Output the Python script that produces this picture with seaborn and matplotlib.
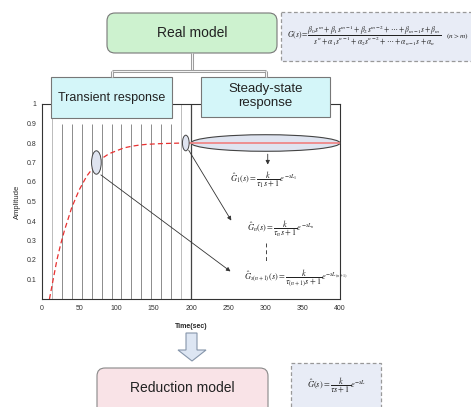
import numpy as np
import pandas as pd
import matplotlib
matplotlib.use("Agg")
import matplotlib.pyplot as plt
import seaborn as sns
from matplotlib.patches import FancyBboxPatch, Ellipse, Polygon, Rectangle

# ---- data ----
t_transient = [10, 15, 20, 25, 30, 40, 50, 60, 70, 80, 90, 100, 110, 120, 130,
               140, 150, 160, 170, 180, 190]
amp_transient = [0.0, 0.10, 0.20, 0.28, 0.35, 0.47, 0.56, 0.63, 0.68, 0.72, 0.745,
                 0.76, 0.775, 0.783, 0.789, 0.793, 0.795, 0.797, 0.798, 0.799, 0.80]
t_steady = [195, 400]
amp_steady = [0.80, 0.80]
grid_times = [13.3, 26.7, 40.0, 53.3, 66.7, 80.0, 93.3, 106.7, 120.0, 133.3,
              146.7, 160.0, 173.3, 186.7]
split_time = 200
x_ticks = [0, 50, 100, 150, 200, 250, 300, 350, 400]
y_ticks = [0.1, 0.2, 0.3, 0.4, 0.5, 0.6, 0.7, 0.8, 0.9, 1.0]
y_ticklabels = ["0.1", "0.2", "0.3", "0.4", "0.5", "0.6", "0.7", "0.8", "0.9", "1"]

sns.set_style("white")
plt.rcParams['font.family'] = ['Liberation Sans', 'DejaVu Sans']
plt.rcParams['mathtext.fontset'] = 'stix'

W, H = 471, 407
fig = plt.figure(figsize=(W / 100, H / 100), dpi=100)
fig.patch.set_facecolor("white")

def fx(px):
    return px / W

def fy(py):
    return 1 - py / H

ax = fig.add_axes([fx(42), fy(299), (340 - 42) / W, (299 - 104) / H])
ax.set_xlim(0, 400)
ax.set_ylim(0, 1)

# vertical segmentation lines
for i, gt in enumerate(grid_times):
    if i == 0 or i == len(grid_times) - 1:
        ax.vlines(gt, 0, 1, color="#bbbbbb", lw=0.7, zorder=1)
    else:
        ax.vlines(gt, 0, 0.9, color="#7a7a7a", lw=0.6, zorder=1)
ax.vlines(split_time, 0, 1, color="#444444", lw=0.9, zorder=1)

df_tr = pd.DataFrame({"t": t_transient, "a": amp_transient})
sns.lineplot(data=df_tr, x="t", y="a", ax=ax, color="#e83030", lw=0.9,
             linestyle=(0, (4, 2.5)), zorder=3)

# steady-state ellipse and line
ax.add_patch(Ellipse((300, 0.8), 200, 0.085, facecolor="#dfe4f0",
                     edgecolor="#444444", lw=0.8, zorder=4, clip_on=False))
df_ss = pd.DataFrame({"t": t_steady, "a": amp_steady})
sns.lineplot(data=df_ss, x="t", y="a", ax=ax, color="#f08080", lw=1.2, zorder=5)
ax.add_patch(Ellipse((193, 0.8), 9, 0.08, facecolor="#dfe4f0",
                     edgecolor="#444444", lw=0.7, zorder=6, clip_on=False))
ax.add_patch(Ellipse((73, 0.70), 13, 0.12, facecolor="#dfe4f0",
                     edgecolor="#444444", lw=0.7, zorder=6))

arrow_kw = dict(arrowstyle="-|>", color="#333333", lw=0.6, mutation_scale=6)
ax.annotate("", xy=(256, 0.39), xytext=(195, 0.775), arrowprops=arrow_kw,
            annotation_clip=False)
ax.annotate("", xy=(256, 0.133), xytext=(76, 0.645), arrowprops=arrow_kw,
            annotation_clip=False)
ax.annotate("", xy=(303, 0.675), xytext=(303, 0.757), arrowprops=arrow_kw,
            annotation_clip=False)

ax.set_xticks(x_ticks)
ax.set_xticklabels([str(v) for v in x_ticks])
ax.set_yticks(y_ticks)
ax.set_yticklabels(y_ticklabels)
ax.tick_params(direction="in", length=2, width=0.6, labelsize=5,
               labelcolor="#333333", pad=4)
ax.set_xlabel("Time(sec)", fontsize=5, fontweight="bold", labelpad=8)
ax.set_ylabel("Amplitude", fontsize=5.5, labelpad=4)
for s in ax.spines.values():
    s.set_color("#333333")
    s.set_linewidth(0.8)

# ---- overlay for diagram elements ----
ov = fig.add_axes([0, 0, 1, 1], zorder=10)
ov.set_xlim(0, W)
ov.set_ylim(H, 0)
ov.axis("off")
ov.patch.set_alpha(0)

# connectors
for xs, ys in [([192, 192], [53, 71]), ([112, 266], [71, 71]),
               ([112, 112], [71, 77]), ([266, 266], [71, 77])]:
    ov.plot(xs, ys, color="#999999", lw=2.2, solid_capstyle="butt")
    ov.plot(xs, ys, color="#f4f4f4", lw=0.8, solid_capstyle="butt")

# Real model box
ov.add_patch(FancyBboxPatch((107, 13), 170, 40, boxstyle="round,pad=0,rounding_size=8",
                            facecolor="#cdf2cf", edgecolor="#777777", lw=0.8))
ov.text(192, 33, "Real model", ha="center", va="center", fontsize=10, color="#222222")

# full model formula box
ov.add_patch(Rectangle((281, 12), 200, 49, facecolor="#e8ecf6", edgecolor="#999999",
                       lw=0.9, linestyle=(0, (3, 2))))
ov.text(287, 36, r"$G(s)=\dfrac{\beta_0 s^m+\beta_1 s^{m-1}+\beta_2 s^{m-2}+\cdots+\beta_{m-1}s+\beta_m}"
        r"{s^n+\alpha_1 s^{n-1}+\alpha_2 s^{n-2}+\cdots+\alpha_{n-1}s+\alpha_n}$",
        ha="left", va="center", fontsize=5.5, color="#222222")
ov.text(446, 36, r"$(n>m)$", ha="left", va="center", fontsize=5.2, color="#222222")

# transient / steady boxes
ov.add_patch(Rectangle((51, 77), 121, 41, facecolor="#d4f6f9", edgecolor="#777777", lw=0.8))
ov.text(111.5, 97.5, "Transient response", ha="center", va="center", fontsize=9,
        color="#222222")
ov.add_patch(Rectangle((201, 77), 129, 40, facecolor="#d4f6f9", edgecolor="#777777", lw=0.8))
ov.text(265.5, 96, "Steady-state\nresponse", ha="center", va="center", fontsize=9.5,
        color="#222222", linespacing=1.15)

# reduced formulas
fk = dict(ha="left", va="center", fontsize=6, color="#222222")
ov.text(230, 180, r"$\hat{G}_1(s)=\dfrac{k}{\tau_1 s+1}e^{-sL_1}$", **fk)
ov.text(247, 229, r"$\hat{G}_n(s)=\dfrac{k}{\tau_n s+1}e^{-sL_n}$", **fk)
ov.plot([266, 266], [243, 262], color="#444444", lw=0.7, linestyle=(0, (4, 3)))
ov.text(244, 278, r"$\hat{G}_{s(n+1)}(s)=\dfrac{k}{\tau_{(n+1)} s+1}e^{-sL_{(n+1)}}$", **fk)

# down arrow
ov.add_patch(Polygon([(186, 333), (197, 333), (197, 350), (206, 350), (192, 361),
                      (178, 350), (186, 350)], closed=True, facecolor="#dde6f3",
                     edgecolor="#8595aa", lw=0.8))

# reduction model box
ov.add_patch(FancyBboxPatch((97, 368), 171, 50, boxstyle="round,pad=0,rounding_size=8",
                            facecolor="#f9e3e7", edgecolor="#888888", lw=0.8))
ov.text(182, 388, "Reduction model", ha="center", va="center", fontsize=10,
        color="#222222")

ov.add_patch(Rectangle((291, 363), 90, 60, facecolor="#e8ecf6", edgecolor="#999999",
                       lw=0.9, linestyle=(0, (3, 2))))
ov.text(336, 385, r"$\hat{G}(s)=\dfrac{k}{\tau s+1}e^{-sL}$", ha="center", va="center",
        fontsize=6, color="#222222")

fig.savefig("out.png", dpi=100)
